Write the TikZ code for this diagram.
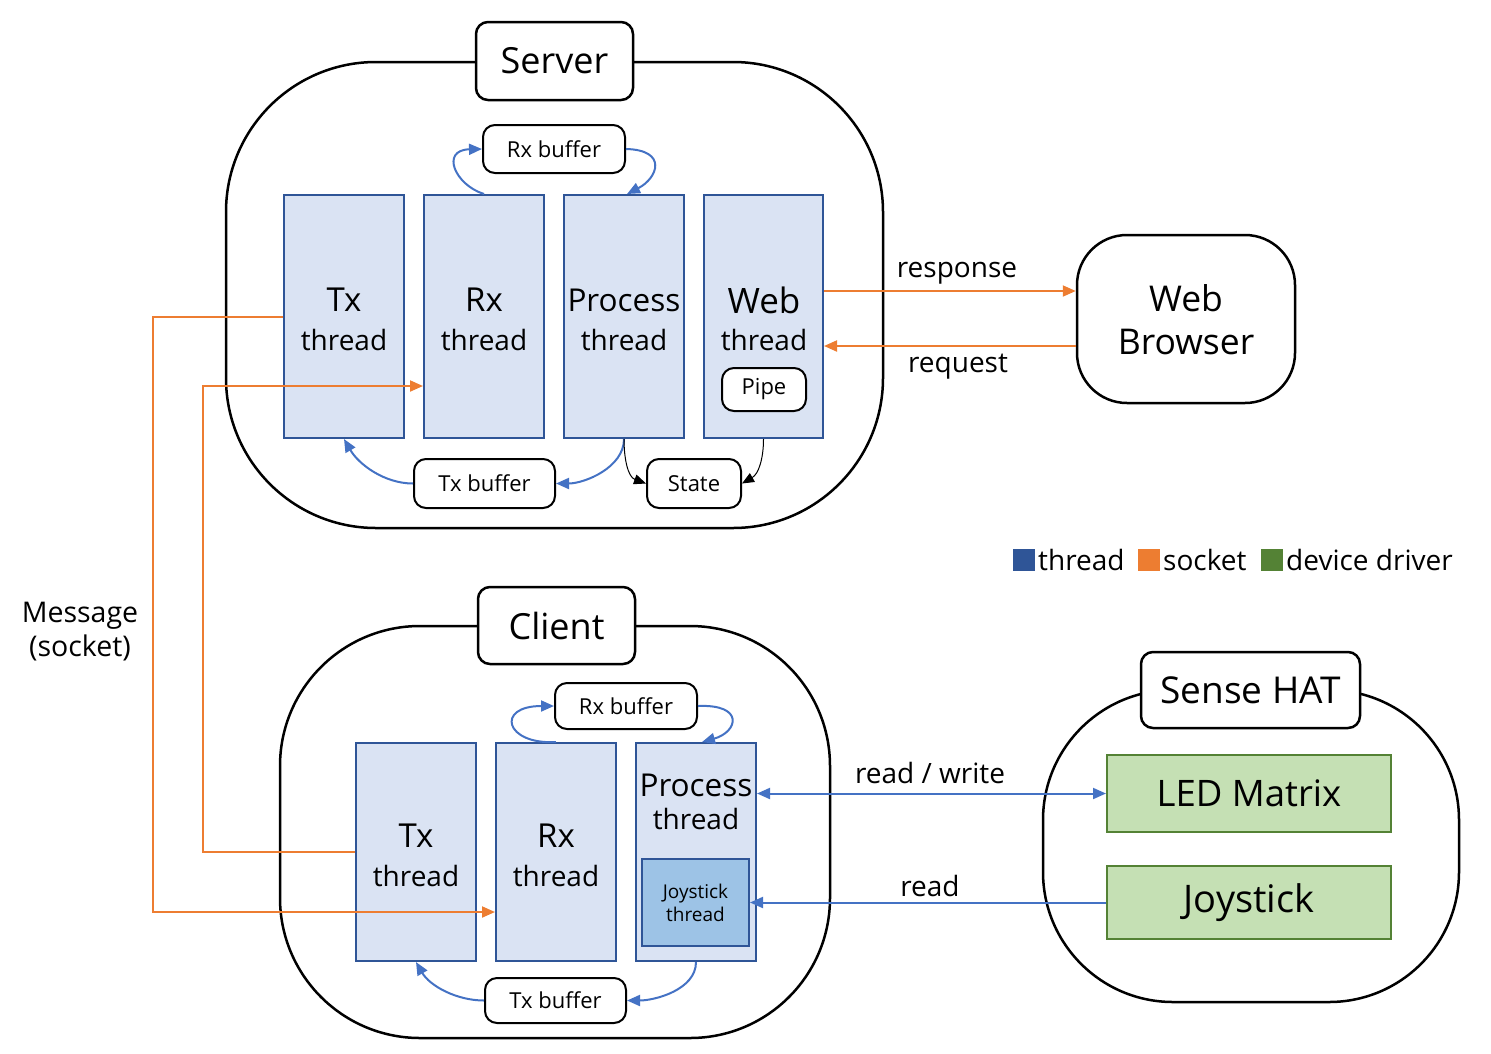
\documentclass[tikz,border=0pt]{standalone}
\usepackage{fontspec}
\setmainfont{Open Sans}
\usetikzlibrary{arrows.meta}
\definecolor{thrfill}{HTML}{DAE3F3}
\definecolor{thrdraw}{HTML}{2F5597}
\definecolor{joyfill}{HTML}{9DC3E6}
\definecolor{devfill}{HTML}{C5E0B4}
\definecolor{devdraw}{HTML}{548235}
\definecolor{sock}{HTML}{ED7D31}
\definecolor{arr}{HTML}{4472C4}
\newcommand{\fs}[1]{\fontsize{#1}{1.22\dimexpr#1pt\relax}\selectfont}
\tikzset{
  group/.style={draw, line width=2.5pt},
  titlebox/.style={draw, fill=white, line width=2.5pt, rounded corners=12pt, inner sep=0pt, font=\fs{36}},
  bufbox/.style={draw, fill=white, line width=2pt, rounded corners=12pt, inner sep=0pt, font=\fs{22}},
  thr/.style={draw=thrdraw, fill=thrfill, line width=2pt, inner sep=0pt, minimum width=120pt},
  dev/.style={draw=devdraw, fill=devfill, line width=2pt, inner sep=0pt, minimum width=284pt},
  big/.style={inner sep=0pt, font=\fs{33}},
  med/.style={inner sep=0pt, font=\fs{28}},
  lbl/.style={inner sep=0pt, font=\fs{28}},
  barr/.style={draw=arr, line width=2pt, -{Triangle[length=13pt,width=11pt]}},
  kar/.style={draw=black, line width=1pt, -{Triangle[length=12pt,width=10pt]}},
  oarr/.style={draw=sock, line width=2pt, -{Triangle[length=13pt,width=11pt]}},
  sq/.style={inner sep=0pt, minimum size=22pt},
}
\begin{document}
\begin{tikzpicture}[x=1pt,y=-1pt]
\useasboundingbox (0,0) rectangle (1491,1053);

% ---------- Server ----------
\draw[group, rounded corners=150pt] (226,62) rectangle (883,528);
\node[titlebox, minimum width=157pt, minimum height=78pt] (srv) at (554.5,61) {Server};

\node[thr, minimum height=243pt] (stx) at (344,316.5) {};
\node[thr, minimum height=243pt] (srx) at (484,316.5) {};
\node[thr, minimum height=243pt] (sproc) at (624,316.5) {};
\node[thr, minimum height=243pt, minimum width=119pt] (sweb) at (763.5,316.5) {};
\node[big] (stxa) at (344,300) {Tx};
\node[med] (stxb) at (344,340) {thread};
\node[big] (srxa) at (484,300) {Rx};
\node[med] (srxb2) at (484,340) {thread};
\node[med, font=\fs{31.5}] (sproca) at (624,300) {Process};
\node[med] (sprocb) at (624,340) {thread};
\node[big, font=\fs{35}] (sweba) at (764,300) {Web};
\node[med] (swebb) at (764,340) {thread};
\node[bufbox, minimum width=84pt, minimum height=43pt] (pipe) at (764,389.5) {Pipe};

\node[bufbox, minimum width=142pt, minimum height=48pt] (srxb) at (554,149) {Rx buffer};
\node[bufbox, minimum width=141pt, minimum height=49pt] (stxbuf) at (484.5,483.5) {Tx buffer};
\node[bufbox, minimum width=94pt, minimum height=49pt] (state) at (694,483.5) {State};

\draw[barr] (srx.north) .. controls (455,185) and (440,150) .. (srxb.west);
\draw[barr] (srxb.east) .. controls (668,150) and (658,178) .. ([xshift=3pt]sproc.north);
\draw[barr] (sproc.south) to[out=-90,in=0,looseness=0.9] (stxbuf.east);
\draw[barr] (stxbuf.west) to[out=180,in=-60,looseness=0.9] (stx.south);
\draw[kar] (sproc.south) to[out=-90,in=160,looseness=1] (state.west);
\draw[kar] (sweb.south) to[out=-90,in=30,looseness=1] (state.east);

% ---------- Web browser ----------
\node[draw, line width=2.5pt, rounded corners=50pt, minimum width=218pt, minimum height=168pt, inner sep=0pt] (wb) at (1186,319) {};
\node[big, font=\fs{35.5}] (wba) at (1186,298) {Web};
\node[big, font=\fs{35.5}] (wbb) at (1186,342) {Browser};
\draw[oarr] ([yshift=25.5pt]sweb.east) -- ([yshift=25.5pt]sweb.east -| wb.west);
\draw[oarr] ([yshift=-27pt]wb.west) -- ([yshift=-27pt]wb.west -| sweb.east);
\node[lbl] (resp) at (957,273) {response};
\node[lbl] (req) at (958,367) {request};

% ---------- Legend ----------
\node[sq, fill=thrdraw] (lg1) at (1024,560) {};
\node[lbl, anchor=west] (lg1t) at (1038,560) {thread};
\node[sq, fill=sock] (lg2) at (1149,560) {};
\node[lbl, anchor=west] (lg2t) at (1163,560) {socket};
\node[sq, fill=devdraw] (lg3) at (1272,560) {};
\node[lbl, anchor=west] (lg3t) at (1286,560) {device driver};

% ---------- Client ----------
\draw[group, rounded corners=140pt] (280,626) rectangle (830,1038);
\node[titlebox, minimum width=157pt, minimum height=77pt] (cli) at (556.5,625.5) {Client};

\node[thr, minimum height=218pt] (ctx) at (416,852) {};
\node[thr, minimum height=218pt] (crx) at (556,852) {};
\node[thr, minimum height=218pt] (cproc) at (696,852) {};
\node[big] (ctxa) at (416,836) {Tx};
\node[med] (ctxb) at (416,876) {thread};
\node[big] (crxa) at (556,836) {Rx};
\node[med] (crxb2) at (556,876) {thread};
\node[med, font=\fs{31.5}] (cproca) at (696,785) {Process};
\node[med] (cprocb) at (696,819) {thread};
\node[draw=thrdraw, fill=joyfill, line width=2pt, minimum width=107pt, minimum height=87pt, inner sep=0pt, align=center, font=\fs{19}] (jt) at (695.5,902.5) {Joystick\\thread};

\node[bufbox, minimum width=142pt, minimum height=46pt] (crxb) at (626,706) {Rx buffer};
\node[bufbox, minimum width=141pt, minimum height=45pt] (ctxbuf) at (555.5,1000.5) {Tx buffer};

\draw[barr] (crx.north) .. controls (505,745) and (495,706) .. (crxb.west);
\draw[barr] (crxb.east) .. controls (745,704) and (738,732) .. ([xshift=6pt]cproc.north);
\draw[barr] (cproc.south) to[out=-90,in=0,looseness=0.9] (ctxbuf.east);
\draw[barr] (ctxbuf.west) to[out=180,in=-60,looseness=0.9] (ctx.south);

% ---------- Sockets ----------
\coordinate (m1) at (153,912);
\coordinate (m2) at (203,386);
\draw[oarr] (stx.west) -| (m1) -- (crx.west |- m1);
\draw[oarr] (ctx.west) -| (m2) -- (srx.west |- m2);
\node[lbl, align=center, font=\fs{28.5}] (msg) at (80,631.5) {Message\\(socket)};

% ---------- Sense HAT ----------
\draw[group, rounded corners=130pt] (1043,690) rectangle (1459,1002);
\node[titlebox, minimum width=219pt, minimum height=76pt, font=\fs{37}] (hat) at (1250.5,690) {Sense HAT};
\node[dev, minimum height=77pt, font=\fs{36.5}] (led) at (1249,793.5) {LED Matrix};
\node[dev, minimum height=73pt, font=\fs{38}] (joy) at (1249,902.5) {Joystick};

\draw[draw=arr, line width=2pt, {Triangle[length=13pt,width=11pt]}-{Triangle[length=13pt,width=11pt]}] (cproc.east |- led.west) -- (led.west);
\draw[barr] (joy.west) -- (joy.west -| jt.east);
\node[lbl] (rw) at (930,773) {read / write};
\node[lbl] (rd) at (930,886) {read};
\end{tikzpicture}
\end{document}
